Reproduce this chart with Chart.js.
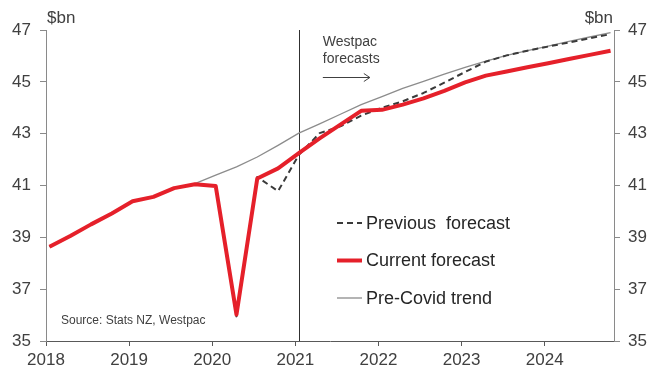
<!DOCTYPE html>
<html>
<head>
<meta charset="utf-8">
<title>Household consumption</title>
<script src="https://cdn.jsdelivr.net/npm/chart.js@4/dist/chart.umd.min.js"></script>
<style>
  html, body { margin: 0; padding: 0; background: #ffffff; }
  #wrap { width: 651px; height: 372px; position: relative; }
</style>
</head>
<body>
<div id="wrap"><canvas id="chart" width="651" height="372"></canvas></div>
<script>
// Quarterly periods, 2018Q1 to 2024Q4
const quarters = [
  '2018Q1','2018Q2','2018Q3','2018Q4',
  '2019Q1','2019Q2','2019Q3','2019Q4',
  '2020Q1','2020Q2','2020Q3','2020Q4',
  '2021Q1','2021Q2','2021Q3','2021Q4',
  '2022Q1','2022Q2','2022Q3','2022Q4',
  '2023Q1','2023Q2','2023Q3','2023Q4',
  '2024Q1','2024Q2','2024Q3','2024Q4'
];

// $bn, current forecast (actuals to 2020Q4)
const currentForecast = [
  38.64, 39.05, 39.50, 39.92,
  40.39, 40.56, 40.90, 41.05,
  40.98, 36.02, 41.27, 41.66,
  42.25, 42.82, 43.35, 43.88,
  43.92, 44.12, 44.36, 44.65,
  44.98, 45.24, 45.40, 45.56,
  45.72, 45.88, 46.04, 46.20
];

// $bn, previous forecast
const previousForecast = [
  38.64, 39.05, 39.50, 39.92,
  40.39, 40.56, 40.90, 41.05,
  40.98, 35.95, 41.33, 40.78,
  42.18, 43.02, 43.28, 43.70,
  44.00, 44.25, 44.57, 44.97,
  45.38, 45.78, 46.02, 46.20,
  46.36, 46.52, 46.68, 46.84
];

// $bn, pre-Covid trend (from 2019Q4)
const preCovidTrend = [
  null, null, null, null,
  null, null, null, 41.07,
  41.40, 41.72, 42.10, 42.55,
  43.02, 43.38, 43.75, 44.12,
  44.43, 44.75, 45.02, 45.30,
  45.56, 45.80, 46.02, 46.20,
  46.38, 46.56, 46.73, 46.90
];

const yearTicks = [2018, 2019, 2020, 2021, 2022, 2023, 2024];
const valueTicks = [35, 37, 39, 41, 43, 45, 47];
const forecastStart = '2021Q1';

// Each quarter is plotted at the middle of its first month
function quarterToYear(q) {
  const year = Number(q.slice(0, 4));
  const n = Number(q.slice(5));
  return year + (n - 1) / 4 + 1 / 24;
}

function toPoints(values) {
  return quarters.map((q, i) => ({ x: quarterToYear(q), y: values[i] }));
}

const FONT = "'Liberation Sans', Arial, sans-serif";
const TEXT = '#404040';
const RED = '#e5202a';

const tickFont = { family: FONT, size: 17 };

const yAxis = (position, width, pad) => ({
  type: 'linear',
  position: position,
  min: 35,
  max: 47,
  afterBuildTicks: s => { s.ticks = valueTicks.map(v => ({ value: v })); },
  afterFit: s => { s.width = width; },
  border: { display: true, color: '#8a8a8a', width: 1 },
  grid: { display: true, drawOnChartArea: false, drawTicks: true, tickLength: 6, color: '#8a8a8a' },
  ticks: { font: tickFont, color: TEXT, padding: pad, callback: v => String(v) }
});

const overlay = {
  id: 'overlay',
  beforeDatasetsDraw(chart) {
    const { ctx, chartArea } = chart;
    const x = chart.scales.x.getPixelForValue(quarterToYear(forecastStart));
    ctx.save();
    ctx.strokeStyle = '#303030';
    ctx.lineWidth = 1;
    ctx.beginPath();
    ctx.moveTo(Math.round(x) + 0.5, chartArea.top);
    ctx.lineTo(Math.round(x) + 0.5, chartArea.bottom);
    ctx.stroke();
    ctx.restore();
  },
  afterDraw(chart) {
    const { ctx, chartArea } = chart;
    ctx.save();
    ctx.fillStyle = TEXT;

    // unit labels above both value axes
    ctx.font = '17px ' + FONT;
    ctx.textBaseline = 'alphabetic';
    ctx.textAlign = 'left';
    ctx.fillText('$bn', chartArea.left + 1, 23);
    ctx.textAlign = 'right';
    ctx.fillText('$bn', chartArea.right - 1, 23);

    // forecast period note and arrow
    const vx = chart.scales.x.getPixelForValue(quarterToYear(forecastStart));
    const ax = vx + 24;
    ctx.textAlign = 'left';
    ctx.font = '14px ' + FONT;
    ctx.fillText('Westpac', ax, 46);
    ctx.fillText('forecasts', ax, 63);
    ctx.strokeStyle = '#404040';
    ctx.lineWidth = 1;
    ctx.beginPath();
    ctx.moveTo(ax, 77.5);
    ctx.lineTo(ax + 47, 77.5);
    ctx.moveTo(ax + 41, 73.5);
    ctx.lineTo(ax + 47, 77.5);
    ctx.lineTo(ax + 41, 81.5);
    ctx.stroke();

    // source
    ctx.font = '12px ' + FONT;
    ctx.fillText('Source: Stats NZ, Westpac', chartArea.left + 15, 324);

    // legend
    const lx = 337, ly = 223, gap = 37.5;
    ctx.font = '18px ' + FONT;
    ctx.textBaseline = 'middle';
    chart.data.datasets.slice().sort((a, b) => a.legendRank - b.legendRank).forEach((ds, i) => {
      const y = ly + i * gap;
      ctx.strokeStyle = ds.borderColor;
      ctx.lineWidth = ds.borderWidth;
      ctx.setLineDash(ds.borderDash || []);
      ctx.beginPath();
      ctx.moveTo(lx, y);
      ctx.lineTo(lx + 25, y);
      ctx.stroke();
      ctx.setLineDash([]);
      ctx.fillStyle = '#262626';
      ctx.fillText(ds.label, lx + 29, y + 1);
    });
    ctx.restore();
  }
};

new Chart(document.getElementById('chart'), {
  type: 'line',
  data: {
    datasets: [
      {
        label: 'Current forecast',
        legendRank: 1,
        data: toPoints(currentForecast),
        borderColor: RED,
        borderWidth: 4,
        order: 0
      },
      {
        label: 'Previous  forecast',
        legendRank: 0,
        data: toPoints(previousForecast),
        borderColor: '#3a3a3a',
        borderWidth: 2,
        borderDash: [6, 4],
        order: 1
      },
      {
        label: 'Pre-Covid trend',
        legendRank: 2,
        data: toPoints(preCovidTrend),
        borderColor: '#8c8c8c',
        borderWidth: 1.3,
        order: 2
      }
    ]
  },
  options: {
    responsive: false,
    animation: false,
    devicePixelRatio: 1,
    layout: { padding: { top: 30, left: 0, right: 0, bottom: 0 } },
    elements: {
      point: { radius: 0, hoverRadius: 0 },
      line: { tension: 0, fill: false, borderCapStyle: 'butt', borderJoinStyle: 'round' }
    },
    plugins: { legend: { display: false }, tooltip: { enabled: false } },
    scales: {
      x: {
        type: 'linear',
        min: 2018,
        max: 2024 + 10 / 12,
        afterBuildTicks: s => { s.ticks = yearTicks.map(v => ({ value: v })); },
        afterFit: s => { s.height = 31; },
        border: { display: true, color: '#595959', width: 1 },
        grid: { display: true, drawOnChartArea: false, drawTicks: true, tickLength: 5, color: '#595959' },
        ticks: { font: tickFont, color: TEXT, padding: 4, maxRotation: 0, autoSkip: false, callback: v => String(v) }
      },
      y: yAxis('left', 46, 9),
      y2: yAxis('right', 37, 8)
    }
  },
  plugins: [overlay]
});
</script>
</body>
</html>
